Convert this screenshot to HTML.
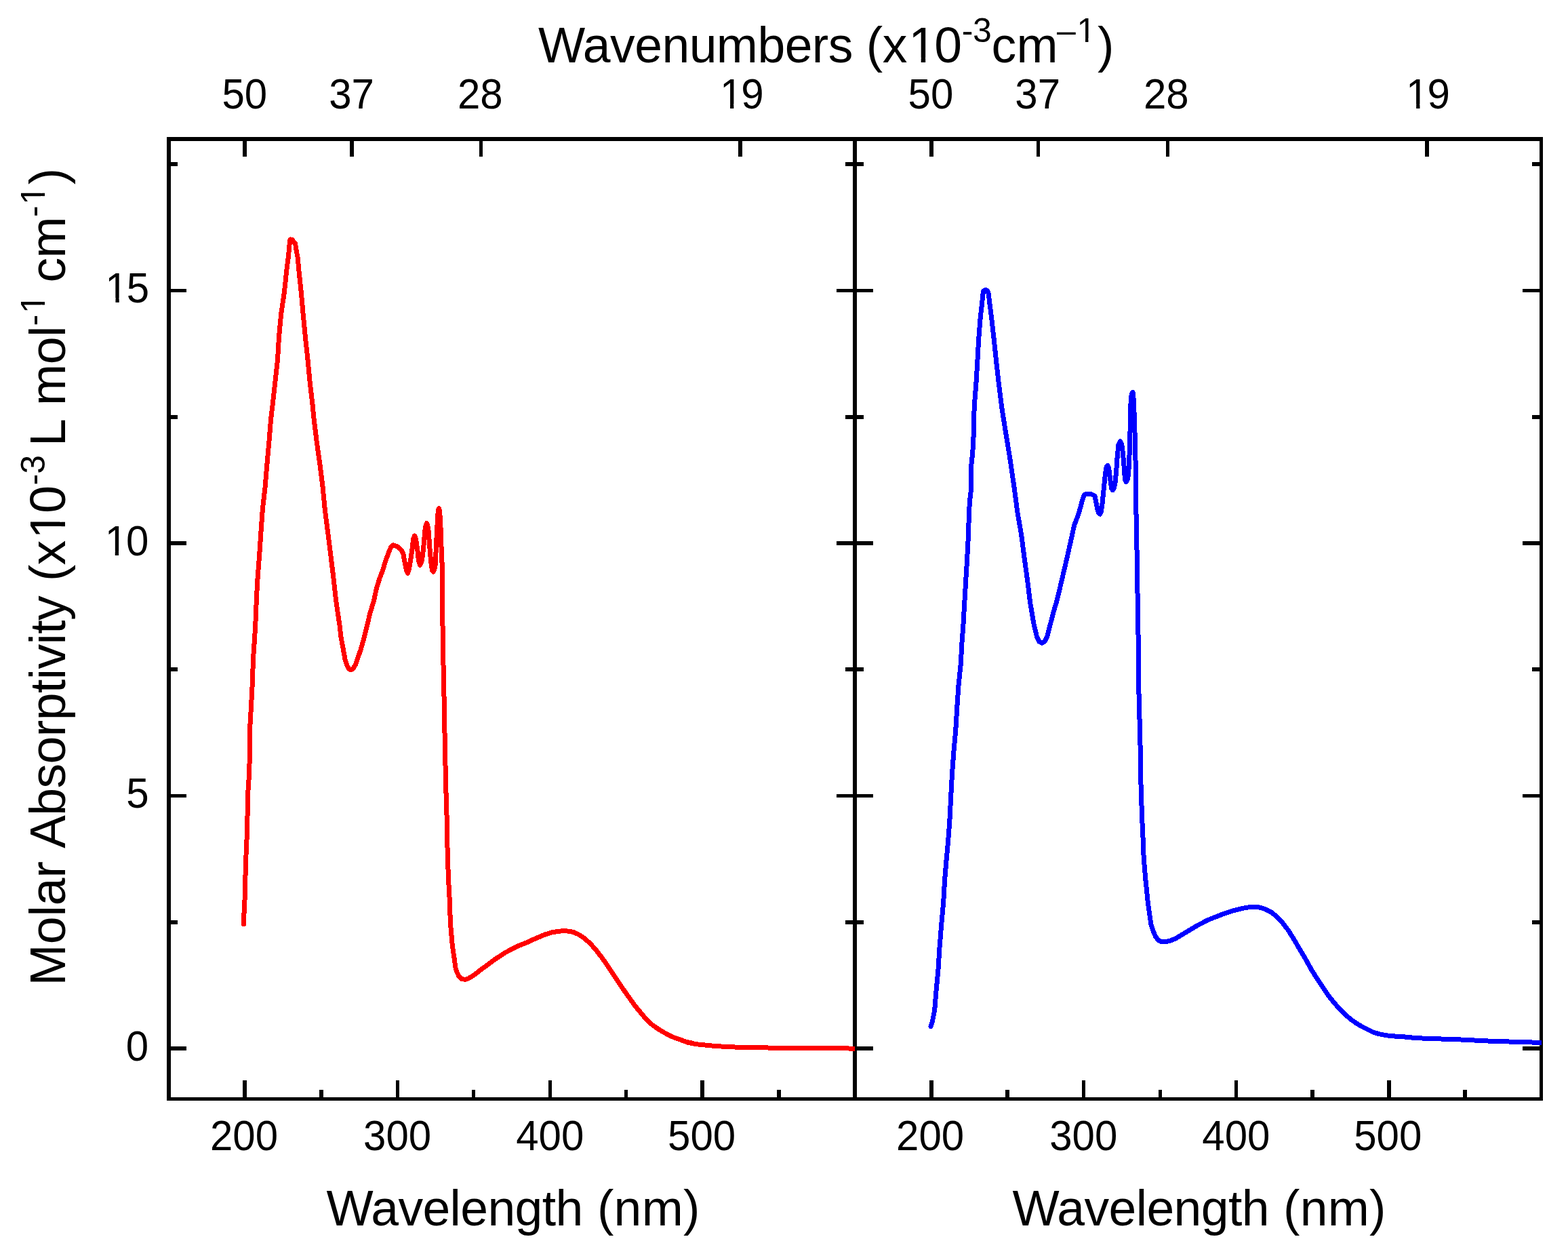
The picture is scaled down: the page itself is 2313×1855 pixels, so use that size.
<!DOCTYPE html>
<html lang="en">
<head>
<meta charset="utf-8">
<title>Molar absorptivity spectra</title>
<style>
html,body{margin:0;padding:0;background:#fff;}
body{width:2313px;height:1855px;overflow:hidden;}
svg{display:block;}
text{font-family:"Liberation Sans",sans-serif;fill:#000;}
.t{font-size:60px;}
.l{font-size:73.33px;}
.s{font-size:50px;}
.m{fill:#fff;}
.ax{fill:#000;shape-rendering:crispEdges;}
.c{fill:none;stroke-width:7;stroke-linejoin:round;stroke-linecap:round;shape-rendering:crispEdges;}
</style>
</head>
<body>
<svg xmlns="http://www.w3.org/2000/svg" width="2313" height="1855" viewBox="0 0 2313 1855">
<rect x="0" y="0" width="2313" height="1855" fill="#fff"/>
<g class="ax">
<rect x="246" y="202" width="6" height="1421"/>
<rect x="2271" y="202" width="5" height="1421"/>
<rect x="1258" y="202" width="6" height="1421"/>
<rect x="246" y="202" width="2030" height="6"/>
<rect x="246" y="1618" width="2030" height="5"/>
<rect x="358" y="208" width="6" height="23"/>
<rect x="516" y="208" width="6" height="23"/>
<rect x="707" y="208" width="5" height="23"/>
<rect x="1089" y="208" width="6" height="23"/>
<rect x="1371" y="208" width="6" height="23"/>
<rect x="1529" y="208" width="5" height="23"/>
<rect x="1720" y="208" width="5" height="23"/>
<rect x="2102" y="208" width="6" height="23"/>
<rect x="358" y="1593" width="6" height="25"/>
<rect x="584" y="1593" width="5" height="25"/>
<rect x="809" y="1593" width="5" height="25"/>
<rect x="1033" y="1593" width="6" height="25"/>
<rect x="1371" y="1593" width="6" height="25"/>
<rect x="1596" y="1593" width="5" height="25"/>
<rect x="1821" y="1593" width="5" height="25"/>
<rect x="2046" y="1593" width="6" height="25"/>
<rect x="471" y="1607" width="6" height="11"/>
<rect x="696" y="1607" width="5" height="11"/>
<rect x="921" y="1607" width="5" height="11"/>
<rect x="1146" y="1607" width="6" height="11"/>
<rect x="1483" y="1607" width="6" height="11"/>
<rect x="1709" y="1607" width="5" height="11"/>
<rect x="1933" y="1607" width="6" height="11"/>
<rect x="2158" y="1607" width="6" height="11"/>
<rect x="252" y="426" width="23" height="5"/>
<rect x="1234" y="426" width="54" height="5"/>
<rect x="2246" y="426" width="25" height="5"/>
<rect x="252" y="798" width="23" height="6"/>
<rect x="1234" y="798" width="54" height="6"/>
<rect x="2246" y="798" width="25" height="6"/>
<rect x="252" y="1171" width="23" height="5"/>
<rect x="1234" y="1171" width="54" height="5"/>
<rect x="2246" y="1171" width="25" height="5"/>
<rect x="252" y="1543" width="23" height="6"/>
<rect x="1234" y="1543" width="54" height="6"/>
<rect x="2246" y="1543" width="25" height="6"/>
<rect x="252" y="239" width="10" height="6"/>
<rect x="1247" y="239" width="27" height="6"/>
<rect x="2260" y="239" width="11" height="6"/>
<rect x="252" y="612" width="10" height="6"/>
<rect x="1247" y="612" width="27" height="6"/>
<rect x="2260" y="612" width="11" height="6"/>
<rect x="252" y="984" width="10" height="6"/>
<rect x="1247" y="984" width="27" height="6"/>
<rect x="2260" y="984" width="11" height="6"/>
<rect x="252" y="1357" width="10" height="6"/>
<rect x="1247" y="1357" width="27" height="6"/>
<rect x="2260" y="1357" width="11" height="6"/>
</g>
<defs>
<clipPath id="cl"><rect x="249" y="205" width="1012" height="1416"/></clipPath>
<clipPath id="cr"><rect x="1261" y="205" width="1013" height="1416"/></clipPath>
</defs>
<path class="c" stroke="#ff0000" clip-path="url(#cl)" d="M359.4,1363.0 L359.7,1352.6 L361.0,1327.6 L361.9,1294.2 L363.0,1260.8 L364.5,1227.4 L365.2,1194.0 L365.5,1173.2 L366.5,1156.5 L367.9,1139.8 L368.2,1106.4 L368.7,1073.0 L370.6,1039.6 L372.4,1006.2 L373.4,972.8 L375.7,939.4 L377.6,906.0 L378.2,885.2 L380.1,851.8 L382.7,818.4 L384.9,785.0 L387.3,751.6 L391.1,718.2 L393.9,684.8 L396.9,651.4 L399.6,618.0 L402.1,597.2 L405.8,563.8 L409.5,530.4 L411.5,497.0 L414.6,463.6 L419.5,430.2 L423.0,396.8 L425.2,380.1 L426.7,365.1 L427.5,355.0 L428.2,353.0 L431.2,353.7 L433.5,356.7 L435.7,359.2 L436.3,365.1 L439.2,380.1 L440.7,396.8 L444.2,430.2 L447.2,463.6 L450.4,497.0 L454.0,530.4 L457.2,563.8 L461.1,597.2 L463.1,618.0 L467.2,651.4 L471.9,684.8 L476.1,718.2 L479.3,751.6 L483.6,785.0 L487.8,818.4 L491.9,851.8 L495.6,885.2 L498.6,906.0 L501.1,922.7 L503.0,939.4 L506.1,956.1 L509.1,972.8 L512.0,981.5 L514.5,986.1 L517.8,987.8 L521.2,985.5 L524.5,980.0 L527.0,972.8 L532.7,956.1 L537.4,939.4 L541.5,922.7 L545.4,906.0 L551.6,885.2 L555.2,868.5 L560.0,852.8 L564.3,841.9 L568.7,827.2 L573.0,815.5 L575.2,810.3 L576.9,806.4 L580.0,803.8 L585.2,805.5 L588.6,807.7 L592.1,811.1 L594.7,815.9 L596.4,825.4 L598.2,834.1 L599.5,841.1 L601.5,845.4 L603.2,840.2 L604.3,834.1 L606.4,821.1 L608.2,808.1 L609.5,795.1 L611.6,789.9 L613.1,794.2 L614.2,799.4 L616.0,812.4 L617.3,825.4 L619.4,833.3 L621.2,829.8 L622.5,825.4 L624.2,812.4 L625.5,799.4 L626.8,782.1 L628.1,774.3 L629.4,771.6 L630.7,774.3 L632.0,782.1 L633.3,799.4 L634.6,816.8 L636.4,834.1 L637.7,841.1 L639.1,843.2 L640.7,840.2 L642.0,834.1 L642.9,816.8 L643.7,799.4 L644.6,782.1 L645.5,764.7 L646.3,752.6 L647.5,749.8 L648.5,753.4 L649.4,764.7 L650.2,782.1 L650.7,799.4 L651.5,816.8 L652.2,834.1 L652.4,851.5 L652.6,880.0 L652.4,906.0 L653.6,939.4 L653.9,972.8 L654.4,1006.2 L655.4,1039.6 L655.9,1073.0 L656.4,1106.4 L657.3,1139.8 L658.1,1173.2 L658.9,1194.0 L659.4,1227.4 L660.3,1260.8 L661.4,1294.2 L663.3,1327.6 L664.4,1361.0 L667.3,1394.4 L669.8,1411.1 L672.1,1427.8 L674.1,1433.5 L676.9,1439.7 L680.4,1443.2 L685.6,1444.4 L690.1,1443.2 L695.7,1440.1 L702.6,1435.2 L709.6,1429.7 L716.5,1424.8 L723.5,1419.6 L730.4,1414.4 L737.4,1409.8 L744.4,1405.2 L751.3,1401.5 L758.3,1398.0 L765.2,1394.5 L772.2,1391.7 L779.1,1389.1 L786.1,1385.6 L803.6,1378.1 L803.6,1378.1 L815.3,1374.6 L828.6,1372.8 L837.0,1373.0 L845.3,1374.3 L853.7,1378.1 L862.0,1383.5 L870.4,1391.0 L878.7,1400.2 L887.1,1411.0 L895.4,1422.7 L903.8,1435.3 L912.1,1447.8 L920.5,1460.3 L928.8,1472.0 L937.2,1483.7 L945.5,1493.7 L953.9,1503.7 L962.2,1511.2 L970.6,1517.1 L978.9,1522.1 L987.3,1526.8 L995.6,1530.4 L1004.0,1533.3 L1012.3,1536.3 L1020.6,1537.9 L1013.9,1537.1 L1027.8,1539.8 L1055.7,1542.6 L1083.5,1544.0 L1111.3,1544.7 L1139.1,1545.1 L1194.8,1545.4 L1260.9,1546.1 L1268.0,1546.1"/>
<path class="c" stroke="#0000ff" clip-path="url(#cr)" d="M1373.0,1513.6 L1375.4,1506.1 L1378.7,1489.4 L1380.7,1464.4 L1383.9,1431.0 L1386.0,1397.6 L1388.6,1364.2 L1391.7,1330.8 L1393.6,1297.4 L1396.4,1264.0 L1398.4,1243.2 L1400.9,1209.8 L1402.6,1176.4 L1404.4,1143.0 L1406.8,1109.6 L1409.8,1076.2 L1411.8,1042.8 L1414.1,1009.4 L1417.6,976.0 L1418.4,955.2 L1420.9,921.8 L1422.8,888.4 L1424.8,855.0 L1426.8,821.6 L1428.5,788.2 L1429.5,754.8 L1430.6,738.1 L1432.6,721.4 L1432.6,688.0 L1434.8,667.2 L1436.6,633.8 L1437.1,600.4 L1439.8,567.0 L1441.8,533.6 L1443.7,500.2 L1446.3,466.8 L1448.3,450.1 L1450.0,433.4 L1451.0,428.7 L1454.0,427.2 L1456.8,429.1 L1458.2,433.4 L1460.2,450.1 L1462.4,466.8 L1466.2,500.2 L1469.7,533.6 L1473.5,567.0 L1477.7,600.4 L1482.9,633.8 L1488.4,667.2 L1491.6,688.0 L1496.4,721.4 L1500.8,754.8 L1506.6,788.2 L1510.9,821.6 L1515.5,855.0 L1519.6,888.4 L1525.3,921.8 L1529.5,939.0 L1532.8,946.0 L1537.0,948.3 L1541.2,945.6 L1544.5,939.3 L1549.0,921.8 L1553.4,905.1 L1558.2,888.4 L1562.4,871.7 L1566.4,855.0 L1574.2,821.6 L1581.7,788.2 L1584.5,775.1 L1590.8,758.5 L1596.5,738.2 L1599.1,729.9 L1602.3,728.3 L1610.5,729.0 L1615.0,731.2 L1616.9,740.7 L1618.8,750.9 L1620.7,756.6 L1622.9,758.2 L1624.5,753.5 L1625.8,744.5 L1628.4,719.1 L1630.3,700.0 L1632.2,688.5 L1634.1,686.6 L1635.6,689.8 L1636.6,697.5 L1638.5,712.7 L1639.8,720.4 L1641.3,722.9 L1643.3,719.7 L1644.9,712.7 L1646.8,693.6 L1648.1,674.5 L1650.0,655.5 L1652.5,650.6 L1654.5,654.8 L1655.7,661.8 L1657.6,680.9 L1658.9,700.0 L1659.9,708.3 L1661.2,710.8 L1663.0,707.6 L1664.6,700.0 L1665.9,674.5 L1666.8,649.1 L1667.2,623.6 L1667.8,598.2 L1669.1,581.6 L1671.0,578.5 L1671.9,585.5 L1672.7,598.2 L1673.5,623.6 L1674.4,649.1 L1675.2,687.3 L1675.5,725.5 L1676.1,763.6 L1676.7,780.1 L1676.4,788.2 L1677.3,821.6 L1677.6,855.0 L1678.3,888.4 L1678.8,921.8 L1679.3,955.2 L1679.4,976.0 L1679.6,1009.4 L1680.6,1042.8 L1681.4,1076.2 L1682.3,1109.6 L1682.6,1143.0 L1683.6,1176.4 L1684.8,1209.8 L1686.4,1243.2 L1687.1,1264.0 L1689.9,1297.4 L1693.3,1330.8 L1695.6,1347.5 L1698.1,1364.2 L1701.0,1372.5 L1704.5,1380.9 L1709.0,1386.7 L1714.0,1388.9 L1716.7,1388.8 L1725.0,1387.7 L1733.4,1384.3 L1750.1,1374.3 L1766.8,1364.3 L1783.5,1355.9 L1800.2,1349.3 L1816.9,1343.4 L1833.6,1339.2 L1846.9,1337.1 L1858.6,1338.1 L1867.0,1340.9 L1875.3,1345.1 L1883.7,1351.8 L1892.0,1360.9 L1900.4,1371.8 L1908.7,1385.2 L1917.1,1399.4 L1925.4,1413.5 L1933.8,1428.6 L1942.1,1441.9 L1950.5,1454.5 L1958.8,1467.0 L1967.2,1477.8 L1975.5,1487.0 L1983.9,1495.4 L1992.2,1502.9 L2000.6,1508.7 L2008.9,1513.7 L2017.3,1517.9 L2025.6,1522.1 L2034.0,1524.6 L2042.3,1526.3 L2050.6,1527.6 L2069.6,1528.7 L2083.5,1530.1 L2111.3,1531.8 L2139.1,1532.2 L2167.0,1533.6 L2194.8,1535.0 L2222.6,1535.9 L2250.5,1536.8 L2274.1,1537.3 L2281.0,1537.3"/>
<g>
<g transform="translate(327.50,160.00) scale(1,1.04)"><text class="t">50</text></g>
<g transform="translate(485.25,160.00) scale(1,1.04)"><text class="t">37</text></g>
<g transform="translate(674.90,160.00) scale(1,1.04)"><text class="t">28</text></g>
<g transform="translate(1060.00,160.00) scale(1,1.04)"><text class="t"><tspan dx="1.96">1</tspan><tspan dx="-1.96">9</tspan></text><rect class="m" x="4.93" y="-6.48" width="12.12" height="7.68"/><rect class="m" x="22.35" y="-6.48" width="11.65" height="7.68"/></g>
<g transform="translate(309.95,1696.00) scale(1,1.04)"><text class="t">200</text></g>
<g transform="translate(536.05,1696.00) scale(1,1.04)"><text class="t">300</text></g>
<g transform="translate(761.25,1696.00) scale(1,1.04)"><text class="t">400</text></g>
<g transform="translate(985.05,1696.00) scale(1,1.04)"><text class="t">500</text></g>
<g transform="translate(1339.60,160.00) scale(1,1.04)"><text class="t">50</text></g>
<g transform="translate(1497.35,160.00) scale(1,1.04)"><text class="t">37</text></g>
<g transform="translate(1687.00,160.00) scale(1,1.04)"><text class="t">28</text></g>
<g transform="translate(2072.10,160.00) scale(1,1.04)"><text class="t"><tspan dx="1.96">1</tspan><tspan dx="-1.96">9</tspan></text><rect class="m" x="4.93" y="-6.48" width="12.12" height="7.68"/><rect class="m" x="22.35" y="-6.48" width="11.65" height="7.68"/></g>
<g transform="translate(1322.05,1696.00) scale(1,1.04)"><text class="t">200</text></g>
<g transform="translate(1548.15,1696.00) scale(1,1.04)"><text class="t">300</text></g>
<g transform="translate(1773.35,1696.00) scale(1,1.04)"><text class="t">400</text></g>
<g transform="translate(1997.15,1696.00) scale(1,1.04)"><text class="t">500</text></g>
<g transform="translate(185.70,1564.00) scale(1,1.04)"><text class="t">0</text></g>
<g transform="translate(186.20,1191.00) scale(1,1.04)"><text class="t">5</text></g>
<g transform="translate(152.70,819.00) scale(1,1.04)"><text class="t"><tspan dx="1.96">1</tspan><tspan dx="-1.96">0</tspan></text><rect class="m" x="4.93" y="-6.48" width="12.12" height="7.68"/><rect class="m" x="22.35" y="-6.48" width="11.65" height="7.68"/></g>
<g transform="translate(153.40,446.00) scale(1,1.04)"><text class="t"><tspan dx="1.96">1</tspan><tspan dx="-1.96">5</tspan></text><rect class="m" x="4.93" y="-6.48" width="12.12" height="7.68"/><rect class="m" x="22.35" y="-6.48" width="11.65" height="7.68"/></g>
<text class="l"><tspan x="481.40" y="1807.00" style="letter-spacing:-0.622px">Wavelength </tspan><tspan x="880.90" y="1807.00" style="letter-spacing:0.267px">(nm)</tspan></text>
<text class="l"><tspan x="1493.50" y="1807.00" style="letter-spacing:-0.622px">Wavelength </tspan><tspan x="1893.00" y="1807.00" style="letter-spacing:0.267px">(nm)</tspan></text>
<text class="l" id="ttl"><tspan x="793.90" y="92.40" style="letter-spacing:-0.55px">Wavenumbers </tspan><tspan x="1277.70" y="92.40" style="letter-spacing:-0.467px">(x<tspan dx="2.40">1</tspan><tspan dx="-2.40">0</tspan></tspan><tspan class="s" x="1418.70" y="62.40" style="letter-spacing:-0.3px">-3</tspan><tspan x="1462.60" y="92.40" style="letter-spacing:0.3px">cm</tspan><tspan class="s" x="1559.00" y="62.40">–<tspan dx="1.64">1</tspan></tspan><tspan x="1618.90" y="92.40">)</tspan></text><rect class="m" x="1344.24" y="84.92" width="14.45" height="8.68"/><rect class="m" x="1365.18" y="84.92" width="13.88" height="8.68"/><rect class="m" x="1590.66" y="56.66" width="10.36" height="6.94"/><rect class="m" x="1605.44" y="56.66" width="9.97" height="6.94"/>
<g transform="translate(96,1447.4) rotate(-90)"><text class="l" id="yl"><tspan x="-6.00" y="0.00" style="letter-spacing:-0.025px">Molar </tspan><tspan x="196.30" y="0.00" style="letter-spacing:-0.555px">Absorptivity </tspan><tspan x="590.30" y="0.00" style="letter-spacing:-0.5px">(x<tspan dx="2.40">1</tspan><tspan dx="-2.40">0</tspan></tspan><tspan class="s" x="732.00" y="-30.00" style="letter-spacing:-0.1px">-3 </tspan><tspan x="789.50" y="0.00">L </tspan><tspan x="849.50" y="0.00" style="letter-spacing:-0.5px">mol</tspan><tspan class="s" x="967.00" y="-30.00">-<tspan dx="1.64">1</tspan><tspan dx="-1.64"> </tspan></tspan><tspan x="1031.00" y="0.00" style="letter-spacing:-0.7px">cm</tspan><tspan class="s" x="1127.40" y="-30.00">-<tspan dx="1.64">1</tspan></tspan><tspan x="1175.20" y="0.00">)</tspan></text><rect class="m" x="656.78" y="-7.48" width="14.45" height="8.68"/><rect class="m" x="677.71" y="-7.48" width="13.88" height="8.68"/><rect class="m" x="987.50" y="-35.74" width="10.36" height="6.94"/><rect class="m" x="1002.29" y="-35.74" width="9.97" height="6.94"/><rect class="m" x="1147.90" y="-35.74" width="10.36" height="6.94"/><rect class="m" x="1162.69" y="-35.74" width="9.97" height="6.94"/></g>
</g>
</svg>
</body>
</html>
